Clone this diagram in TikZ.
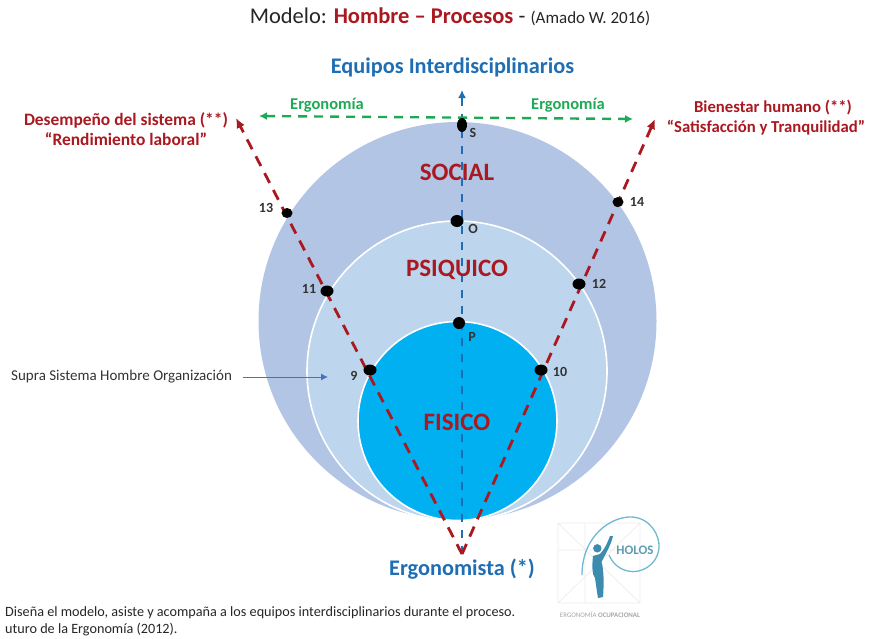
\documentclass[tikz,border=0pt]{standalone}
\usepackage{xcolor}
\usepackage{fontspec}
\setmainfont{Carlito}
\usetikzlibrary{shapes.geometric, arrows.meta}

\definecolor{ruby}{RGB}{170,24,32}
\definecolor{teamblue}{RGB}{31,110,180}
\definecolor{ergogreen}{RGB}{30,170,85}
\definecolor{suprablue}{RGB}{68,114,196}
\definecolor{socialfill}{RGB}{178,197,228}
\definecolor{psiquefill}{RGB}{189,214,238}
\definecolor{fisicofill}{RGB}{0,176,240}
\definecolor{holosblue}{RGB}{110,185,210}
\definecolor{holosdark}{RGB}{60,140,175}
\definecolor{holosgrey}{RGB}{236,236,236}

\begin{document}
\begin{tikzpicture}[x=1pt, y=-1pt,
    title/.style={text=ruby, font=\fontsize{#1}{20}\selectfont\bfseries, align=center, inner sep=0pt},
    level/.style={circle, draw=white, line width=1.6pt, inner sep=0pt, minimum size=#1},
    levellabel/.style={text=ruby, font=\fontsize{25}{25}\selectfont\bfseries, inner sep=0pt},
    dot/.style={ellipse, fill=black, inner sep=0pt, minimum width=13pt, minimum height=11pt},
    num/.style={font=\fontsize{14}{14}\selectfont\bfseries, text=black!80, inner sep=0pt},
    redline/.style={ruby, line width=2.8pt, dash pattern=on 11pt off 8pt, -{Latex[length=10pt,width=9pt]}},
    blueline/.style={teamblue, line width=2.2pt, dash pattern=on 8pt off 8pt, -{Latex[length=8pt,width=8pt]}},
    greenline/.style={ergogreen, line width=2.4pt, dash pattern=on 9pt off 7pt, {Latex[length=8pt,width=8pt]}-{Latex[length=8pt,width=8pt]}}]
  \useasboundingbox (0,0) rectangle (874,638);

  % circles
  \node[level=398pt, fill=socialfill, draw=none] (social) at (457.5,321) {};
  \node[level=300pt, fill=psiquefill] (psiquico) at (457,371) {};
  \node[level=199pt, fill=fisicofill] (fisico) at (457.5,421) {};

  % free ends
  \coordinate (apex) at (462,554);
  \coordinate (leftend) at (236,118);
  \coordinate (rightend) at (655,119);
  \coordinate (topend) at (462,90);
  \coordinate (ergoleft) at (259,116);
  \coordinate (ergoright) at (633,119);
  \coordinate (supraend) at (328,377);

  \draw[blueline] (apex) -- (topend);
  \draw[greenline] (ergoleft) -- (ergoright);
  \draw[redline] (apex) -- (leftend);
  \draw[redline] (apex) -- (rightend);

  % points
  \node[dot, minimum width=10pt, minimum height=14pt] (s) at (462,125) {};
  \node[dot, minimum height=12pt] (o) at (457,221) {};
  \node[dot, minimum width=12pt, minimum height=12pt] (p) at (459,323) {};
  \node[dot] (n9) at (370,370) {};
  \node[dot] (n10) at (541,370) {};
  \node[dot] (n11) at (327,291) {};
  \node[dot] (n12) at (579,284) {};
  \node[dot, minimum width=11pt, minimum height=10pt] (n13) at (287,213) {};
  \node[dot, minimum width=11pt, minimum height=10pt] (n14) at (618,202) {};
  \node[num] at (473,133) {S};
  \node[num] at (473,229) {O};
  \node[num] at (472,337) {P};
  \node[num] at (354,376) {9};
  \node[num] at (560,372) {10};
  \node[num] at (309,289) {11};
  \node[num] at (599,284) {12};
  \node[num] at (266,208) {13};
  \node[num] at (637,202) {14};

  % labels
  \node[levellabel] at (457,172) {SOCIAL};
  \node[levellabel] at (457,270) {PSIQUICO};
  \node[levellabel] at (457,422) {FISICO};

  \node[inner sep=0pt, text=black!85, font=\fontsize{22.5}{22.5}\selectfont] at (450,17)
    {Modelo: \textcolor{ruby}{\textbf{Hombre – Procesos}} - {\fontsize{17}{17}\selectfont (Amado W. 2016)}};
  \node[inner sep=0pt, text=teamblue, font=\fontsize{22.3}{22.3}\selectfont\bfseries] at (452.5,67) {Equipos Interdisciplinarios};
  \node[inner sep=0pt, text=teamblue, font=\fontsize{22.3}{22.3}\selectfont\bfseries] at (462,569) {Ergonomista (*)};
  \node[inner sep=0pt, text=ergogreen, font=\fontsize{16.5}{16.5}\selectfont\bfseries] at (327,105) {Ergonomía};
  \node[inner sep=0pt, text=ergogreen, font=\fontsize{16.5}{16.5}\selectfont\bfseries] at (568,105) {Ergonomía};
  \node[title=17.4] at (126,129) {Desempeño del sistema (**)\\“Rendimiento laboral”};
  \node[title=16.7] at (766,118) {\hspace*{14pt}Bienestar humano (**)\\“Satisfacción y Tranquilidad”};

  \node[inner sep=0pt, anchor=west, text=black!80, font=\fontsize{15}{15}\selectfont] (supra) at (11,377) {Supra Sistema Hombre Organización};
  \draw[-{Latex[length=7pt,width=7pt]}, suprablue, line width=1pt, shorten <=11pt] (supra) -- (supraend);

  \node[inner sep=0pt, anchor=west, text=black!85, font=\fontsize{14.2}{14.2}\selectfont] at (5,612.5) {Diseña el modelo, asiste y acompaña a los equipos interdisciplinarios durante el proceso.};
  \node[inner sep=0pt, anchor=west, text=black!85, font=\fontsize{14.2}{14.2}\selectfont] at (5,630) {uturo de la Ergonomía (2012).};

  % logo
  \draw[holosgrey, line width=0.7pt] (558,523) rectangle (640,603) (558,523) -- (640,603) (640,523) -- (558,603)
    (558,550) -- (640,550) (585,523) -- (585,603);
  \draw[holosblue, line width=1.3pt] (582,575) .. controls (582,535) and (612,516) .. (632,517)
    .. controls (650,518) and (660,535) .. (659,548) .. controls (657,566) and (640,574) .. (628,571)
    .. controls (618,569) and (612,562) .. (609,555);
  \fill[holosdark] (597.3,548.3) circle[radius=4.2];
  \fill[holosdark] (593,556) .. controls (592,565) and (592,575) .. (595,578)
    .. controls (596,585) and (597,592) .. (598,598) -- (603,597)
    .. controls (604,585) and (604,570) .. (601.5,562) .. controls (606,553) and (611,545) .. (613,536)
    -- (610,536) .. controls (607,544) and (604,550) .. (600,554) -- cycle;
  \node[inner sep=0pt, text=holosblue!85!black, font=\fontsize{13}{13}\selectfont\bfseries] at (635,550) {HOLOS};
  \node[inner sep=0pt, text=black!35, font=\fontsize{6.9}{6.9}\selectfont] at (600,614.5) {ERGONOMÍA \textbf{OCUPACIONAL}};
\end{tikzpicture}
\end{document}
